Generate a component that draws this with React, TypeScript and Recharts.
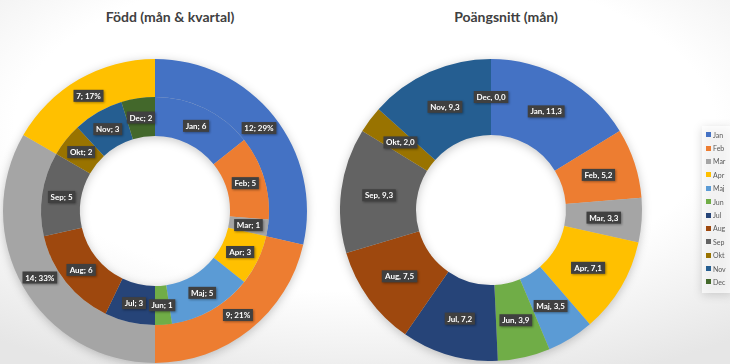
import { useLayoutEffect, useRef, useState } from "react";
import { PieChart, Pie, Cell, Legend } from "recharts";

const months = ["Jan", "Feb", "Mar", "Apr", "Maj", "Jun", "Jul", "Aug", "Sep", "Okt", "Nov", "Dec"];
const bornPerMonth = [6, 5, 1, 3, 5, 1, 3, 6, 5, 2, 3, 2];
const quarters = ["Kv1", "Kv2", "Kv3", "Kv4"];
const bornPerQuarter = [12, 9, 14, 7];
const avgScore = [11.3, 5.2, 3.3, 7.1, 3.5, 3.9, 7.2, 7.5, 9.3, 2.0, 9.3, 0.0];

const MONTH_COLORS = [
  "#4472C4", "#ED7D31", "#A5A5A5", "#FFC000", "#5B9BD5", "#70AD47",
  "#264478", "#9E480E", "#636363", "#997300", "#255E91", "#43682B",
];
const QUARTER_COLORS = ["#4472C4", "#ED7D31", "#A5A5A5", "#FFC000"];

const FONT = "Lato, 'Open Sans', sans-serif";
const RAD = Math.PI / 180;
const NO_MARGIN = { top: 0, right: 0, bottom: 0, left: 0 };

const monthData = months.map((m, i) => ({ name: m, value: bornPerMonth[i] }));
const quarterData = quarters.map((q, i) => ({ name: q, value: bornPerQuarter[i] }));
const scoreData = months.map((m, i) => ({ name: m, value: avgScore[i] }));

function BoxLabel({ x, y, text }: { x: number; y: number; text: string }) {
  const ref = useRef<SVGTextElement>(null);
  const [w, setW] = useState(text.length * 4.4);
  useLayoutEffect(() => {
    if (ref.current) setW(ref.current.getBBox().width);
  }, [text]);
  return (
    <g>
      <rect x={x - w / 2 - 2.5} y={y - 6} width={w + 5} height={12} fill="#404040"
        style={{ filter: "drop-shadow(1px 1px 1px rgba(0,0,0,0.35))" }} />
      <text ref={ref} x={x} y={y} textAnchor="middle" dominantBaseline="central"
        fill="#fff" fontSize={8} fontWeight="bold" fontFamily={FONT}>
        {text}
      </text>
    </g>
  );
}

// dark box label in the middle of the ring
function ringLabel(fmt: (p: any) => string) {
  return (p: any) => {
    const r = (p.innerRadius + p.outerRadius) / 2;
    const x = p.cx + r * Math.cos(-p.midAngle * RAD);
    const y = p.cy + r * Math.sin(-p.midAngle * RAD);
    return <BoxLabel key={`l-${p.index}`} x={x} y={y} text={fmt(p)} />;
  };
}

const comma = (v: number) => v.toFixed(1).replace(".", ",");

function LegendBox(props: any) {
  const items = [...(props.payload || [])].sort(
    (a: any, b: any) => months.indexOf(a.value) - months.indexOf(b.value)
  );
  return (
    <div style={{ background: "rgba(255,255,255,0.7)", padding: "2px 4px 4px 4px" }}>
      {items.map((it: any, i: number) => (
        <div key={i} style={{ display: "flex", alignItems: "center", height: 13.4, fontSize: 7, color: "#595959", fontFamily: FONT }}>
          <span style={{ width: 5, height: 5, background: it.color, marginRight: 2, display: "inline-block" }} />
          {it.value}
        </div>
      ))}
    </div>
  );
}

const titleStyle: React.CSSProperties = {
  position: "absolute", top: 8, width: 240, textAlign: "center",
  fontFamily: FONT, fontWeight: "bold", fontSize: 14, color: "#404040",
};

export default function App() {
  return (
    <div style={{
      position: "absolute", left: 0, top: 0, width: 730, height: 364, overflow: "hidden",
      background: "radial-gradient(ellipse 80% 75% at 50% 35%, #ffffff 60%, #e6e6e6 100%)",
    }}>
      <div style={{ ...titleStyle, left: 170 - 120 }}>Född (mån &amp; kvartal)</div>
      <div style={{ ...titleStyle, left: 506 - 120 }}>Poängsnitt (mån)</div>

      <div style={{ position: "absolute", left: 0, top: 0 }}>
        <PieChart width={320} height={364} margin={NO_MARGIN}
          style={{ filter: "drop-shadow(0 2px 5px rgba(0,0,0,0.22))" }}>
          <Pie data={quarterData} dataKey="value" nameKey="name" cx={155} cy={211}
            innerRadius={114} outerRadius={152} startAngle={90} endAngle={-270}
            stroke="none" isAnimationActive={false} labelLine={false}
            label={ringLabel((p) => `${p.value}; ${Math.round(p.percent * 100)}%`)}>
            {quarterData.map((_, i) => <Cell key={i} fill={QUARTER_COLORS[i]} />)}
          </Pie>
          <Pie data={monthData} dataKey="value" nameKey="name" cx={155} cy={211}
            innerRadius={75} outerRadius={114} startAngle={90} endAngle={-270}
            stroke="none" isAnimationActive={false} labelLine={false}
            label={ringLabel((p) => `${p.name}; ${p.value}`)}>
            {monthData.map((_, i) => <Cell key={i} fill={MONTH_COLORS[i]} />)}
          </Pie>
        </PieChart>
      </div>

      <div style={{ position: "absolute", left: 330, top: 0 }}>
        <PieChart width={400} height={364} margin={NO_MARGIN}
          style={{ filter: "drop-shadow(0 2px 5px rgba(0,0,0,0.22))" }}>
          <Pie data={scoreData} dataKey="value" nameKey="name" cx={161} cy={210}
            innerRadius={75} outerRadius={151} startAngle={90} endAngle={-270}
            stroke="none" isAnimationActive={false} labelLine={false}
            label={ringLabel((p) => `${p.name}, ${comma(p.value)}`)}>
            {scoreData.map((_, i) => <Cell key={i} fill={MONTH_COLORS[i]} />)}
          </Pie>
          <Legend layout="vertical" content={<LegendBox />}
            wrapperStyle={{ position: "absolute", left: 372, top: 126, width: 30 }} />
        </PieChart>
      </div>
    </div>
  );
}
